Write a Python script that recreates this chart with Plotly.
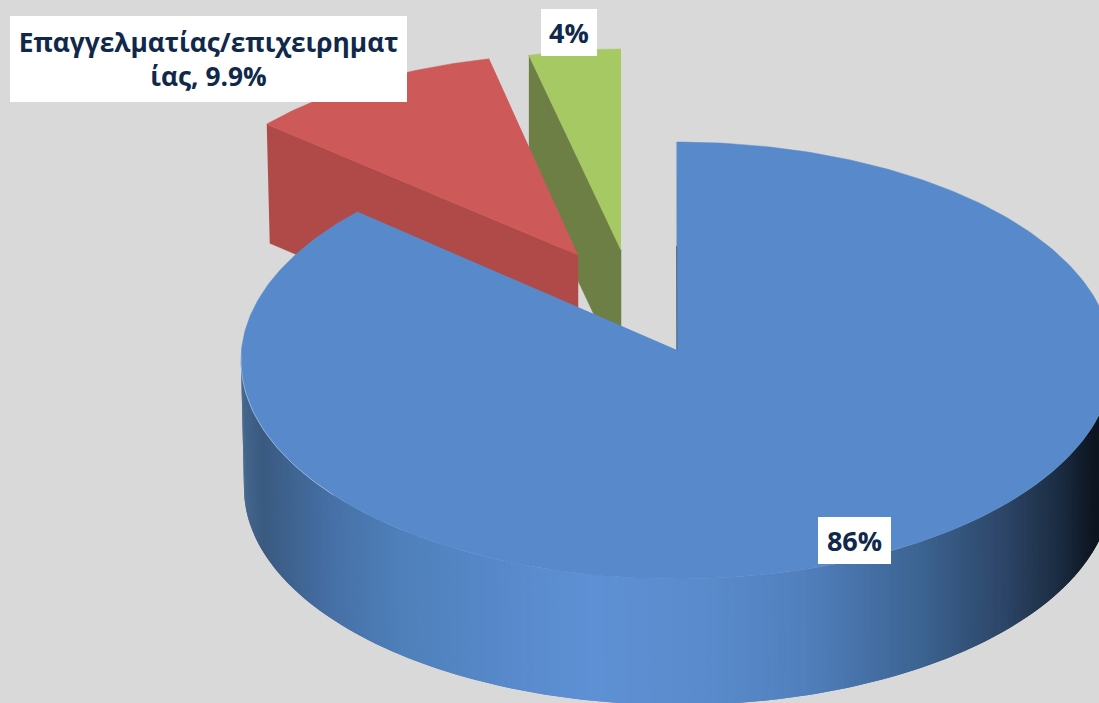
import math
import plotly.graph_objects as go

# ---- data ----
categories = ["Άλλο", "Επαγγελματίας/επιχειρηματίας", "Άλλο 2"]
values = [86, 9.9, 4]
label_texts = ["86%", "Επαγγελματίας/επιχειρηματ<br>ίας, 9.9%", "4%"]

# ---- styles ----
BG = "#d9d9d9"
TOP = ["#588acb", "#cd5a58", "#a6c964"]
WALL = [None, "#b04a49", "#6e7f45"]
TEXT = "#10284a"
W, H = 1099, 703

# ---- projection geometry (pixels of the pie's drawing space) ----
APEX0 = (677, 350)
ELL_TOP = (677, 360.5, 436, 218.5)
ELL_BOT = (678, 488, 434, 217)
MAIN_END_TURN = 0.9
# exploded slices: apex, radii, depth
EXPL = {1: dict(apex=(578, 255), rx=410, ry=201, depth=120, turn=0.7, end_turn=1.9, dx=3),
        2: dict(apex=(621, 250), rx=370, ry=201, depth=122, turn=0.0, end_turn=0.0, dx=0)}

total = sum(values)
spans = [v / total * 360 for v in values]
starts = [sum(spans[:i]) for i in range(len(spans))]


def ell_ray(theta):
    """Point on the top ellipse hit by a ray cast from the off-centre apex."""
    cx, cy, rx, ry = ELL_TOP
    ax, ay = (APEX0[0] - cx) / rx, (cy - APEX0[1]) / ry
    dx, dy = math.sin(math.radians(theta)), math.cos(math.radians(theta))
    b = ax * dx + ay * dy
    t = -b + math.sqrt(b * b - (ax * ax + ay * ay - 1))
    return cx + rx * (ax + t * dx), cy - ry * (ay + t * dy)


def hexmix(a, b, f):
    ca = [int(a[i:i + 2], 16) for i in (1, 3, 5)]
    cb = [int(b[i:i + 2], 16) for i in (1, 3, 5)]
    return "#%02x%02x%02x" % tuple(round(x + (y - x) * f) for x, y in zip(ca, cb))


# gradient stops of the curved wall, by horizontal position
RAMP = [(241, "#46688f"), (262, "#3a5a80"), (330, "#4670a6"), (400, "#4f80ba"), (500, "#5789cb"),
        (590, "#5e90d5"), (700, "#5a8bcc"), (800, "#5180bd"), (913, "#3d6594"), (1000, "#2d4668"),
        (1060, "#1a2b40"), (1092, "#0d1520"), (1120, "#0d1520")]


def ramp(x):
    for (x0, c0), (x1, c1) in zip(RAMP, RAMP[1:]):
        if x <= x1:
            return hexmix(c0, c1, max(0, (x - x0) / (x1 - x0)))
    return RAMP[-1][1]


fig = go.Figure()


def poly(xs, ys, color, lw=0.5, lc=None):
    fig.add_trace(go.Scatter(x=xs, y=ys, mode="lines", fill="toself", fillcolor=color,
                             line=dict(color=lc or color, width=lw), hoverinfo="skip", showlegend=False))


# exploded slices: far one first
for i in (2, 1):
    g = EXPL[i]
    ax, ay = g["apex"]
    s = starts[i] + g["turn"]
    e = min(starts[i] + spans[i] + g["end_turn"], 360)
    steps = [s + (e - s) * k / 60 for k in range(61)]
    rim = [(ax + g["rx"] * math.sin(math.radians(t)), ay - g["ry"] * math.cos(math.radians(t))) for t in steps]
    # inner wall under the slice's clockwise-start edge
    x0, y0 = rim[0]
    poly([x0, ax, ax, x0 + g["dx"]], [y0, ay, ay + g["depth"], y0 + g["depth"] - 1], WALL[i])
    poly([ax] + [p[0] for p in rim], [ay] + [p[1] for p in rim], TOP[i])

# curved wall of the main slice: overlapping strips
N = 240
for k in range(N):
    a0 = 90 + 180 * k / N
    a1 = 90 + 180 * (k + 2.0) / N
    pts = []
    for a, E in ((a0, ELL_TOP), (a1, ELL_TOP), (a1, ELL_BOT), (a0, ELL_BOT)):
        cx, cy, rx, ry = E
        pts.append((cx + rx * math.sin(math.radians(min(a, 270))), cy - ry * math.cos(math.radians(min(a, 270)))))
    xm = sum(p[0] for p in pts) / 4
    fig.add_trace(go.Scatter(x=[p[0] for p in pts], y=[p[1] for p in pts], mode="none", fill="toself",
                             fillcolor=ramp(xm), hoverinfo="skip", showlegend=False))

# main slice top
s, e = starts[0], starts[0] + spans[0] + MAIN_END_TURN
steps = [s + (e - s) * k / 360 for k in range(361)]
rim = [ell_ray(t) for t in steps]
poly([APEX0[0]] + [p[0] for p in rim], [APEX0[1]] + [p[1] for p in rim], TOP[0])
# thin inner edge: pale at the rim, darker toward the apex
mid_y = (rim[0][1] + APEX0[1]) / 2
fig.add_trace(go.Scatter(x=[APEX0[0] - 0.6, APEX0[0] - 0.4], y=[rim[0][1], mid_y], mode="lines",
                         line=dict(color="#8fa6c4", width=0.7), hoverinfo="skip", showlegend=False))
fig.add_trace(go.Scatter(x=[APEX0[0] - 0.4, APEX0[0] - 0.2], y=[mid_y, APEX0[1]], mode="lines",
                         line=dict(color="#3c4f66", width=0.8), hoverinfo="skip", showlegend=False))
# pale highlight on the lower-left rim
hl = list(range(232, 272))
fig.add_trace(go.Scatter(
    x=[ELL_TOP[0] + ELL_TOP[2] * math.sin(math.radians(a)) for a in hl],
    y=[ELL_TOP[1] - ELL_TOP[3] * math.cos(math.radians(a)) for a in hl],
    mode="lines", line=dict(color="#a9bfdc", width=0.7), hoverinfo="skip", showlegend=False))

# labels
boxes = [(818, 517, 73, 47), (10, 16, 397, 86), (541, 9, 56, 47)]
sizes = [27, 26.3, 27]
for txt, (bx, by, bw, bh), fs in zip(label_texts, boxes, sizes):
    fig.add_annotation(x=bx, y=by, xref="x", yref="y", xanchor="left", yanchor="top", text=txt,
                       showarrow=False, bgcolor="#ffffff", width=bw, height=bh, borderpad=0, borderwidth=0,
                       align="center", valign="middle",
                       font=dict(family="Open Sans", size=fs, color=TEXT, weight=700))

fig.update_layout(width=W, height=H, margin=dict(l=0, r=0, t=0, b=0), paper_bgcolor=BG, plot_bgcolor=BG,
                  xaxis=dict(range=[0, W], visible=False, fixedrange=True),
                  yaxis=dict(range=[H, 0], visible=False, fixedrange=True),
                  showlegend=False)
fig.write_html("out.html", config={"displayModeBar": False},
               post_script="document.body.style.margin='0';document.body.style.overflow='hidden';")
